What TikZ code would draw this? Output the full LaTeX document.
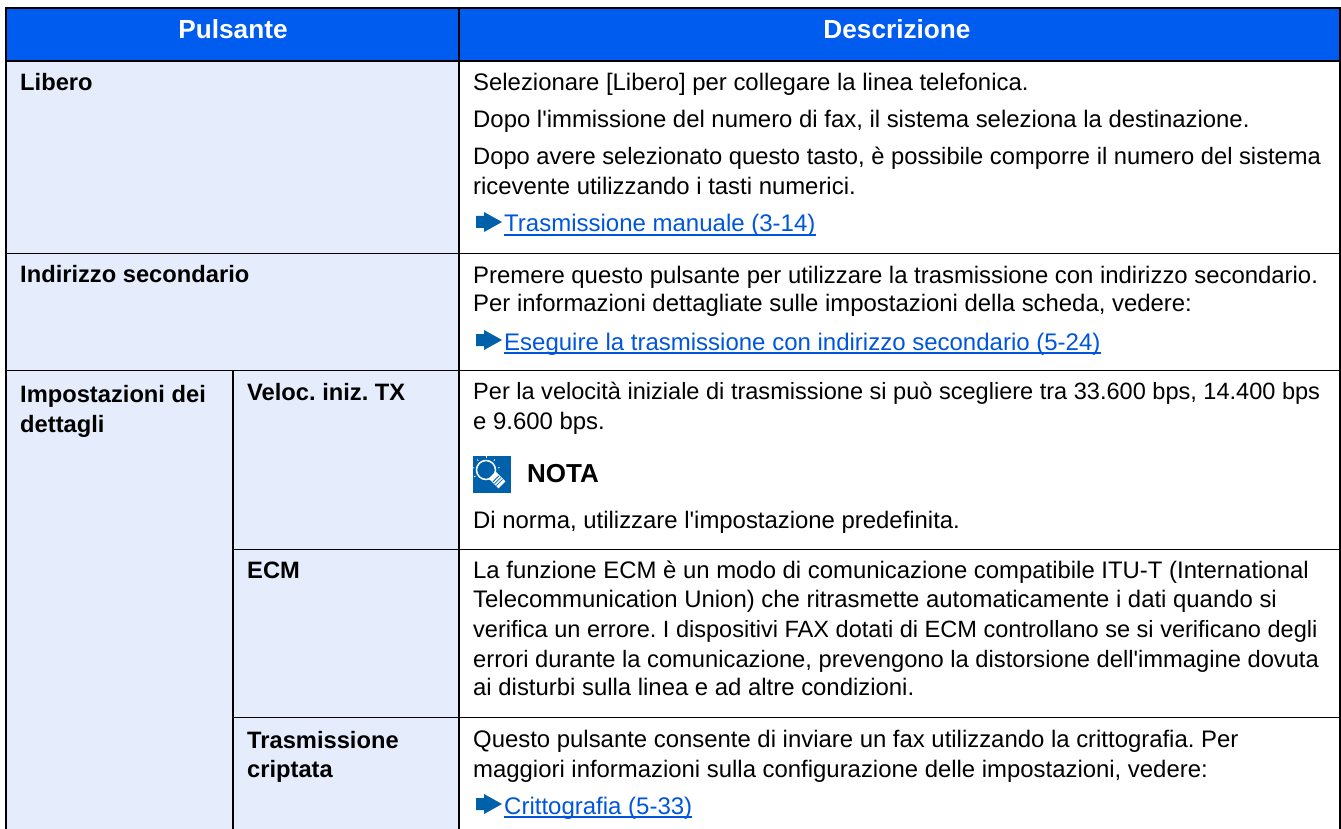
\documentclass[tikz,border=0pt]{standalone}
\usepackage{fontspec}
\setmainfont{Liberation Sans}[Ligatures=TeXOff]
\frenchspacing
\definecolor{hdr}{HTML}{005BEF}
\definecolor{cell}{HTML}{E5ECFB}
\definecolor{lnk}{HTML}{0055DD}
\definecolor{arw}{HTML}{0060A9}
\tikzset{
 body/.style={anchor=base west,inner sep=0pt,font=\fontsize{23.9}{28}\selectfont,text=black},
 tight/.style={body,font=\fontsize{23.55}{28}\selectfont},
 mid/.style={body,font=\fontsize{23.72}{28}\selectfont},
 bold/.style={body,font=\fontsize{23.7}{28}\bfseries\selectfont},
 hd/.style={anchor=base,inner sep=0pt,font=\fontsize{26.2}{30}\bfseries\selectfont,text=white},
 link/.style={body,font=\fontsize{24}{28}\selectfont,text=lnk},
 goarrow/.style={fill=arw,draw=none},
 thin rule/.style={draw=black,line width=1.4pt},
 thick rule/.style={draw=black,line width=2.2pt},
 lnkrule/.style={draw=lnk,line width=1.6pt}
}
\begin{document}
\begin{tikzpicture}[x=1pt,y=-1pt]
\useasboundingbox (0,0) rectangle (1341,829);
\fill[white] (0,0) rectangle (1341,829);
% fills
\fill[hdr] (6,8) rectangle (1340,61);
\fill[cell] (6,61) rectangle (459,829);
% rules
\draw[thin rule] (459,8) -- (459,829);
\draw[thin rule] (233,370.5) -- (233,829);
\draw[thin rule] (6,253.3) -- (1340,253.3);
\draw[thin rule] (6,370.5) -- (1340,370.5);
\draw[thin rule] (233,549.3) -- (1340,549.3);
\draw[thin rule] (233,717.3) -- (1340,717.3);
\draw[thick rule] (6,61) -- (1340,61);
\draw[thick rule] (6,829) -- (6,8) -- (1340,8) -- (1340,829);
% header
\node[hd] (h1) at (233,39) {Pulsante};
\node[hd] (h2) at (897,39) {Descrizione};
% left
\node[bold] (a1) at (20,91) {Libero};
\node[bold] (a2) at (20,282.7) {Indirizzo secondario};
\node[bold] (a3) at (20,402.7) {Impostazioni dei};
\node[bold] (a4) at (20,432.7) {dettagli};
\node[bold] (b1) at (247,400) {Veloc. iniz. TX};
\node[bold] (b2) at (247,578) {ECM};
\node[bold] (b3) at (247,748) {Trasmissione};
\node[bold] (b4) at (247,777) {criptata};
% right
\node[body] (t1) at (473,91) {Selezionare [Libero] per collegare la linea telefonica.};
\node[body] (t2) at (473,128) {Dopo l'immissione del numero di fax, il sistema seleziona la destinazione.};
\node[mid] (t3) at (473,165) {Dopo avere selezionato questo tasto, è possibile comporre il numero del sistema};
\node[body] (t4) at (473,195) {ricevente utilizzando i tasti numerici.};
\node[link] (l1) at (504,232) {Trasmissione manuale (3-14)};
\node[body] (t5) at (473,283) {Premere questo pulsante per utilizzare la trasmissione con indirizzo secondario.};
\node[body] (t6) at (473,311.7) {Per informazioni dettagliate sulle impostazioni della scheda, vedere:};
\node[link] (l2) at (504,350) {Eseguire la trasmissione con indirizzo secondario (5-24)};
\node[tight] (t7) at (473,399) {Per la velocità iniziale di trasmissione si può scegliere tra 33.600 bps, 14.400 bps};
\node[body] (t8) at (473,429) {e 9.600 bps.};
\node[bold,font=\fontsize{26}{30}\bfseries\selectfont] (n1) at (527,482.7) {NOTA};
\node[body] (t9) at (473,528) {Di norma, utilizzare l'impostazione predefinita.};
\node[body] (e1) at (473,578) {La funzione ECM è un modo di comunicazione compatibile ITU-T (International};
\node[body] (e2) at (473,607) {Telecommunication Union) che ritrasmette automaticamente i dati quando si};
\node[tight] (e3) at (473,637) {verifica un errore. I dispositivi FAX dotati di ECM controllano se si verificano degli};
\node[mid] (e4) at (473,667) {errori durante la comunicazione, prevengono la distorsione dell'immagine dovuta};
\node[body] (e5) at (473,695.5) {ai disturbi sulla linea e ad altre condizioni.};
\node[body] (q1) at (473,747) {Questo pulsante consente di inviare un fax utilizzando la crittografia. Per};
\node[body] (q2) at (473,777) {maggiori informazioni sulla configurazione delle impostazioni, vedere:};
\node[link] (l3) at (504,814) {Crittografia (5-33)};
% link underlines
\foreach \n in {l1,l2,l3}{
 \draw[lnkrule] ([yshift=-3.2pt]\n.base west) -- ([yshift=-3.2pt]\n.base east);
}
% arrows
\foreach \y in {222,340,804}{
 \fill[goarrow] (476,\y-6) -- (484,\y-6) -- (484,\y-10) -- (502,\y) -- (484,\y+10) -- (484,\y+6) -- (476,\y+6) -- cycle;
}
% note icon
\fill[arw] (473,456) rectangle (511,493.3);
\begin{scope}[line cap=round]
 \draw[white,line width=1.5pt] (486,470) circle (9.5);
 \foreach \a in {190,230,270,310,350,150}{
  \draw[white,line width=0.8pt,shift={(486,470)}] (\a:12.3) -- (\a:13.6);
 }
 \fill[white] (495.5,471.5) -- (488.5,478.5) -- (498.4,488.4) -- (505.4,481.4) -- cycle;
 \fill[arw] (488,466) -- (494,472) -- (490,476) -- (484,470) -- cycle;
 \foreach \t in {5.5,8,10.5}{
  \draw[arw,line width=0.8pt] (492+0.707*\t+3,475+0.707*\t-3) -- (492+0.707*\t-3,475+0.707*\t+3);
 }
\end{scope}
\end{tikzpicture}
\end{document}
